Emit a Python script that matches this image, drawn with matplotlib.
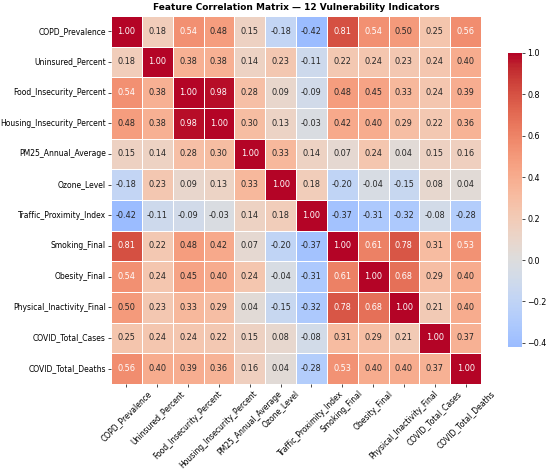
import numpy as np
import pandas as pd
import matplotlib
matplotlib.use('Agg')
import matplotlib.pyplot as plt
import seaborn as sns

features = [
    "COPD_Prevalence", "Uninsured_Percent", "Food_Insecurity_Percent",
    "Housing_Insecurity_Percent", "PM25_Annual_Average", "Ozone_Level",
    "Traffic_Proximity_Index", "Smoking_Final", "Obesity_Final",
    "Physical_Inactivity_Final", "COVID_Total_Cases", "COVID_Total_Deaths",
]

# lower triangle rows, diagonal = 1
row_copd = [1.00]
row_uninsured = [0.18, 1.00]
row_food = [0.54, 0.38, 1.00]
row_housing = [0.48, 0.38, 0.98, 1.00]
row_pm25 = [0.15, 0.14, 0.28, 0.30, 1.00]
row_ozone = [-0.18, 0.23, 0.09, 0.13, 0.33, 1.00]
row_traffic = [-0.42, -0.11, -0.09, -0.03, 0.14, 0.18, 1.00]
row_smoking = [0.81, 0.22, 0.48, 0.42, 0.07, -0.20, -0.37, 1.00]
row_obesity = [0.54, 0.24, 0.45, 0.40, 0.24, -0.04, -0.31, 0.61, 1.00]
row_inactivity = [0.50, 0.23, 0.33, 0.29, 0.04, -0.15, -0.32, 0.78, 0.68, 1.00]
row_cases = [0.25, 0.24, 0.24, 0.22, 0.15, 0.08, -0.08, 0.31, 0.29, 0.21, 1.00]
row_deaths = [0.56, 0.40, 0.39, 0.36, 0.16, 0.04, -0.28, 0.53, 0.40, 0.40, 0.37, 1.00]

rows = [row_copd, row_uninsured, row_food, row_housing, row_pm25, row_ozone,
        row_traffic, row_smoking, row_obesity, row_inactivity, row_cases, row_deaths]

n = len(features)
mat = np.zeros((n, n))
for i, r in enumerate(rows):
    for j, v in enumerate(r):
        mat[i, j] = v
        mat[j, i] = v
corr = pd.DataFrame(mat, index=features, columns=features)

fig = plt.figure(figsize=(5.5, 4.71), dpi=100)
ax = fig.add_axes([111 / 550, 1 - 384 / 471, 370 / 550, 368 / 471])
cax = fig.add_axes([508 / 550, 1 - 347 / 471, 14 / 550, 294 / 471])

sns.heatmap(corr, ax=ax, cbar_ax=cax, annot=True, fmt='.2f', cmap='coolwarm',
            center=0, linewidths=0.5, linecolor='white',
            annot_kws={'size': 5.9})

ax.set_title('Feature Correlation Matrix \u2014 12 Vulnerability Indicators',
             fontsize=6.5, fontweight='bold', pad=4)
ax.set_xticklabels(features, rotation=45, ha='center', fontsize=5.5)
ax.set_yticklabels(features, rotation=0, fontsize=5.5)
ax.tick_params(length=2.5, width=0.5, pad=1.2)
cax.tick_params(labelsize=5.8, length=2.5, width=0.5, pad=1.5)
for s in cax.spines.values():
    s.set_visible(False)

fig.savefig('out.png', dpi=100)
